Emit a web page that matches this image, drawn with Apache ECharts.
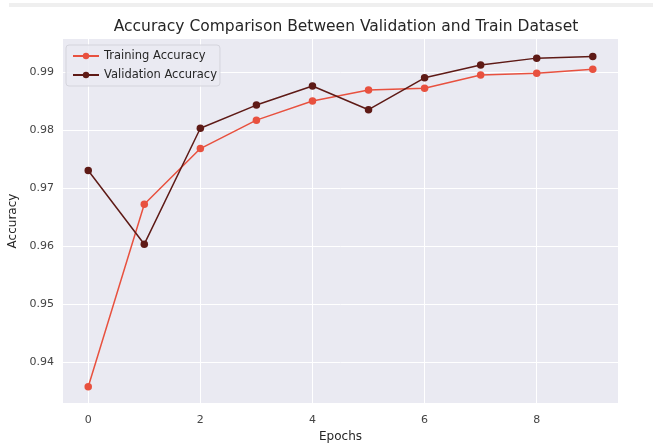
<!DOCTYPE html>
<html>
<head>
<meta charset="utf-8">
<script src="https://cdn.jsdelivr.net/npm/echarts@6/dist/echarts.min.js"></script>
<style>
	html, body {margin: 0; padding: 0; background: #fff;}
	#chart {width: 653px; height: 443px;}
</style>
</head>
<body>
<div id="chart"></div>
<script>
// epochs + accuracy values
const epochs = [0, 1, 2, 3, 4, 5, 6, 7, 8, 9];
const trainAcc = [0.9357, 0.9672, 0.9768, 0.9817, 0.9850, 0.9869, 0.9872, 0.9895, 0.9898, 0.9905];
const valAcc = [0.9730, 0.9603, 0.9803, 0.9843, 0.9876, 0.9835, 0.9890, 0.9912, 0.9924, 0.9927];
const xTicks = [0, 2, 4, 6, 8];
const yTicks = [0.94, 0.95, 0.96, 0.97, 0.98, 0.99];

const chart = echarts.init(document.getElementById('chart'), null, {renderer: 'canvas'});
const font = 'DejaVu Sans';
const pair = arr => epochs.map((e, i) => [e, arr[i]]);

const option = {
	animation: false,
	backgroundColor: '#fff',
	textStyle: {fontFamily: font},
	graphic: [{
		type: 'rect',
		shape: {x: 9, y: 3, width: 644, height: 4},
		style: {fill: '#efefef'},
		silent: true
	}],
	title: {
		text: 'Accuracy Comparison Between Validation and Train Dataset',
		left: 341,
		textAlign: 'center',
		top: 14,
		textStyle: {fontFamily: font, fontSize: 15.5, fontWeight: 'normal', color: '#262626'}
	},
	legend: {
		left: 66,
		top: 45,
		orient: 'vertical',
		itemGap: 7,
		itemWidth: 26,
		itemHeight: 8,
		padding: [5, 3, 5, 6],
		backgroundColor: 'rgba(234,234,242,0.85)',
		borderColor: '#d4d4dc',
		borderWidth: 1,
		borderRadius: 3,
		textStyle: {fontFamily: font, fontSize: 11.5, color: '#262626'},
		data: ['Training Accuracy', 'Validation Accuracy']
	},
	grid: {
		left: 63,
		right: 35,
		top: 39,
		bottom: 40,
		outerBoundsMode: 'none',
		containLabel: false,
		show: true,
		backgroundColor: '#eaeaf2',
		borderWidth: 0
	},
	xAxis: {
		type: 'value',
		min: -0.45,
		max: 9.45,
		name: 'Epochs',
		nameLocation: 'middle',
		nameGap: 27,
		nameTextStyle: {fontFamily: font, fontSize: 12, color: '#262626'},
		axisLine: {show: false},
		axisTick: {show: false, customValues: xTicks},
		axisLabel: {customValues: xTicks, fontFamily: font, fontSize: 11, color: '#444', margin: 12},
		splitLine: {show: true, lineStyle: {color: '#fff', width: 1}}
	},
	yAxis: {
		type: 'value',
		min: 0.9329,
		max: 0.9957,
		name: 'Accuracy',
		nameLocation: 'middle',
		nameGap: 37,
		nameTextStyle: {fontFamily: font, fontSize: 12, color: '#262626'},
		axisLine: {show: false},
		axisTick: {show: false, customValues: yTicks},
		axisLabel: {customValues: yTicks, fontFamily: font, fontSize: 11, color: '#444', margin: 9,
			formatter: v => String(Math.round(v * 100) / 100)},
		splitLine: {show: true, lineStyle: {color: '#fff', width: 1}}
	},
	series: [
		{
			name: 'Training Accuracy',
			type: 'line',
			data: pair(trainAcc),
			symbol: 'circle',
			symbolSize: 7.5,
			color: '#e8513f',
			lineStyle: {width: 1.5, color: '#e8513f'},
			itemStyle: {color: '#e8513f'}
		},
		{
			name: 'Validation Accuracy',
			type: 'line',
			data: pair(valAcc),
			symbol: 'circle',
			symbolSize: 7.5,
			color: '#5e1a16',
			lineStyle: {width: 1.5, color: '#5e1a16'},
			itemStyle: {color: '#5e1a16'}
		}
	]
};
chart.setOption(option);
</script>
</body>
</html>
